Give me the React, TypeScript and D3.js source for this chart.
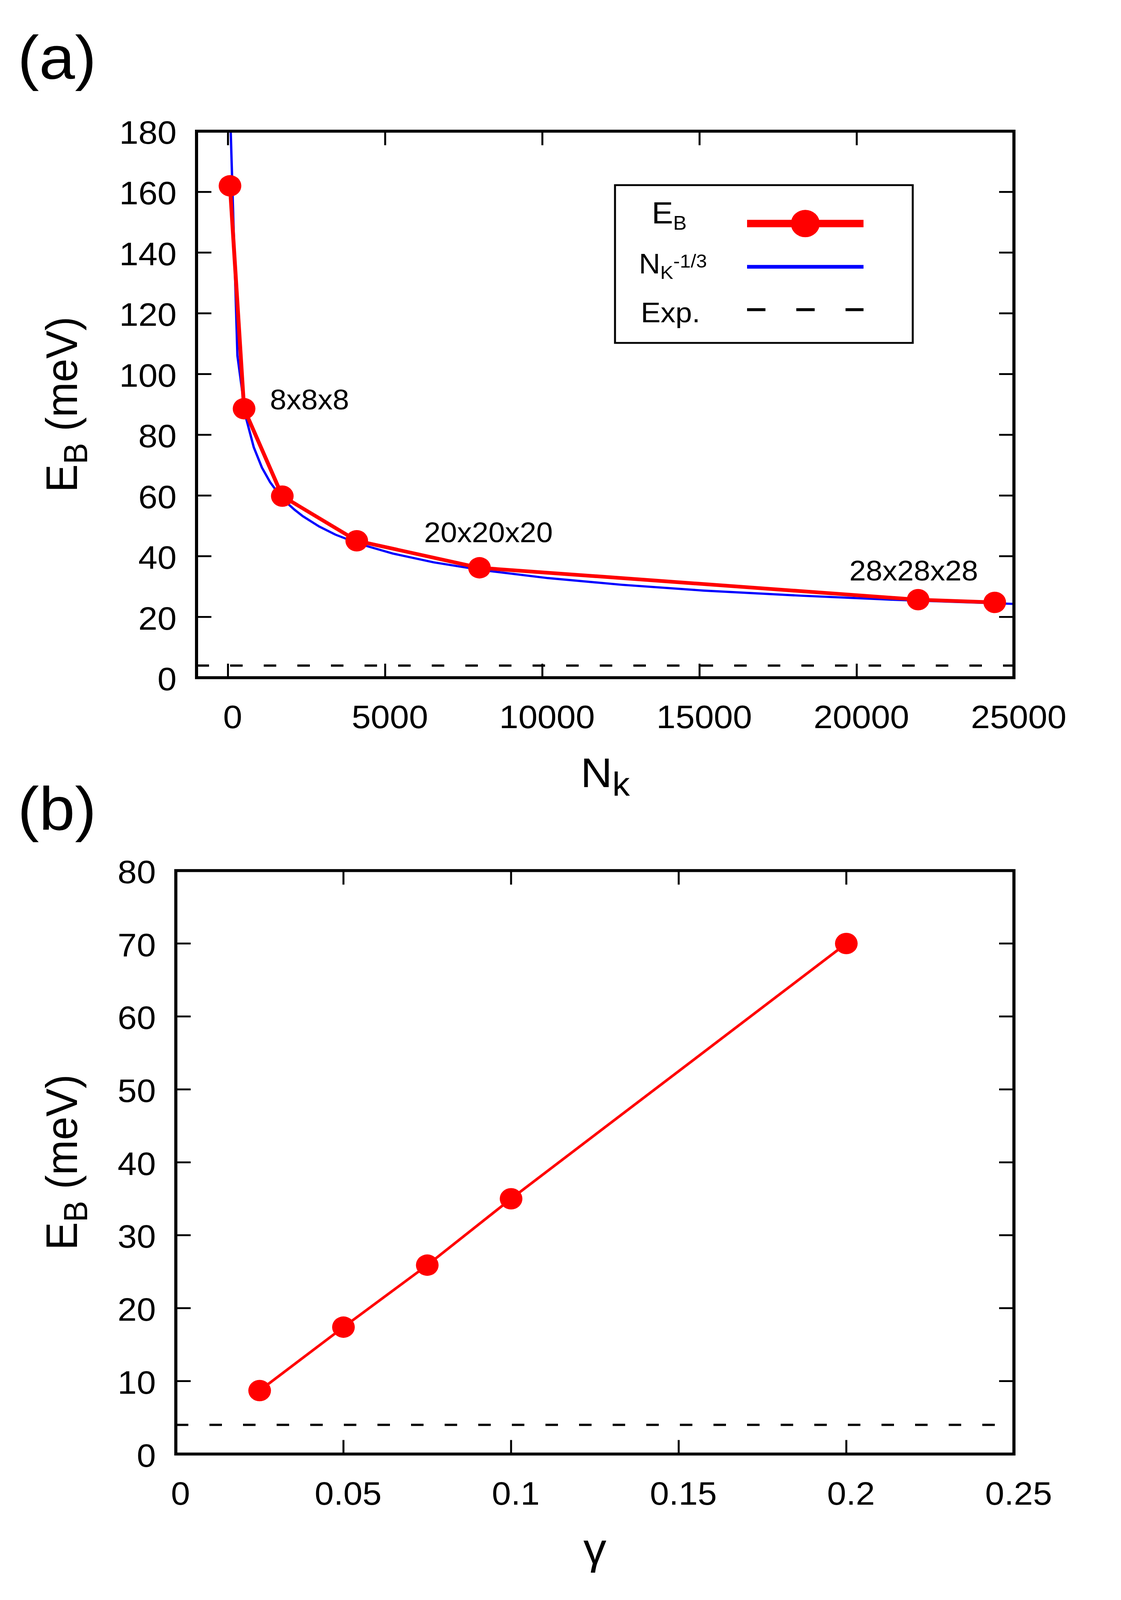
import React, { useLayoutEffect } from 'react'
import * as d3 from 'd3'

// panel (a): binding energy vs number of k-points
const NK = [64, 512, 1728, 4096, 8000, 21952, 24389]
const EB_NK = [162, 88.6, 59.8, 45.1, 36.2, 25.7, 24.8]
// N_k^-1/3 fit curve
const FIT_NK = [87, 300, 560, 820, 1080, 1340, 1600, 1860, 2120, 2380, 2900, 3420, 4200, 5240, 6540, 8100, 10180, 12520, 15120, 18240, 21100, 25000]
const FIT_EB = [180, 106.1, 86.1, 75.9, 69.2, 64.4, 60.7, 57.7, 55.3, 53.2, 49.8, 47.1, 44.0, 40.9, 38.0, 35.4, 32.8, 30.6, 28.7, 27.0, 25.7, 24.3]
const GRID_LABELS = ['8x8x8', '20x20x20', '28x28x28']
const GRID_AT = [512, 8000, 21952]
const EXP_EB = 4

// panel (b): binding energy vs gamma
const GAMMA = [0.025, 0.05, 0.075, 0.1, 0.2]
const EB_GAMMA = [8.7, 17.4, 25.9, 35, 70]

const NK_TICKS = [0, 5000, 10000, 15000, 20000, 25000]
const EB_TICKS_A = [0, 20, 40, 60, 80, 100, 120, 140, 160, 180]
const GAMMA_TICKS = [0, 0.05, 0.1, 0.15, 0.2, 0.25]
const EB_TICKS_B = [0, 10, 20, 30, 40, 50, 60, 70, 80]

const FONT = '"Liberation Sans", Arial, Helvetica, sans-serif'
const RED = '#ff0000'
const BLUE = '#0000ff'
const W = 2869
const H = 4330

type Scale = d3.ScaleLinear<number, number>

function Frame({ x, y, xTicks, yTicks }: { x: Scale; y: Scale; xTicks: number[]; yTicks: number[] }) {
  const [x0, x1] = x.range()
  const [y0, y1] = y.range()
  const tl = 38
  return (
    <g>
      {xTicks.map(t => (
        <g key={'x' + t}>
          <line x1={x(t)} x2={x(t)} y1={y0} y2={y0 - tl} stroke="#000" strokeWidth={5} />
          <line x1={x(t)} x2={x(t)} y1={y1} y2={y1 + tl} stroke="#000" strokeWidth={5} />
          <text x={x(t) + 12} y={y0 + 137} fontSize={88} textAnchor="middle">{String(t)}</text>
        </g>
      ))}
      {yTicks.map(t => (
        <g key={'y' + t}>
          <line x1={x0} x2={x0 + tl} y1={y(t)} y2={y(t)} stroke="#000" strokeWidth={5} />
          <line x1={x1} x2={x1 - tl} y1={y(t)} y2={y(t)} stroke="#000" strokeWidth={5} />
          <text x={x0 - 51} y={y(t) + 34} fontSize={88} textAnchor="end">{String(t)}</text>
        </g>
      ))}
      <rect x={x0} y={y1} width={x1 - x0} height={y0 - y1} fill="none" stroke="#000" strokeWidth={8} />
    </g>
  )
}

function YTitle({ cy }: { cy: number }) {
  return (
    <text transform={`translate(197,${cy}) rotate(-90)`} fontSize={114} textAnchor="middle">
      E<tspan dy={26} fontSize={86}>B</tspan><tspan dy={-26}> (meV)</tspan>
    </text>
  )
}

export default function App() {
  useLayoutEffect(() => {
    document.body.style.margin = '0'
  }, [])

  // the browser viewport may be shorter than the figure; fit the whole figure in it
  const viewH = Math.min(H, window.innerHeight || H)

  // panel (a)
  const xa = d3.scaleLinear().domain([-1000, 25000]).range([503, 2595])
  const ya = d3.scaleLinear().domain([0, 180]).range([1834, 355])
  // panel (b)
  const xb = d3.scaleLinear().domain([0, 0.25]).range([450, 2595])
  const yb = d3.scaleLinear().domain([0, 80]).range([3935, 2356])

  const lineA = d3.line<number>().x((_, i) => xa(NK[i])).y(d => ya(d))
  const fitA = d3.line<number>().x((_, i) => xa(FIT_NK[i])).y(d => ya(d))
  const lineB = d3.line<number>().x((_, i) => xb(GAMMA[i])).y(d => yb(d))

  const labelOffsets = [
    { dx: 66, dy: 2 },
    { dx: -142, dy: -69 },
    { dx: -176, dy: -52 },
  ]

  // legend geometry
  const lg = { x: 1574, y: 501, w: 762, h: 427, s0: 1912, s1: 2210 }

  return (
    <svg width={W} height={viewH} viewBox={`0 0 ${W} ${H}`} preserveAspectRatio="none"
      style={{ display: 'block', background: '#fff' }}
      fontFamily={FONT}>
      <rect x={0} y={0} width={W} height={H} fill="#fff" />

      {/* ---------- (a) ---------- */}
      <text x={45} y={212} fontSize={165}>(a)</text>

      <line x1={xa.range()[0]} x2={xa.range()[1]} y1={ya(EXP_EB)} y2={ya(EXP_EB)}
        stroke="#000" strokeWidth={6} strokeDasharray="32,54" />
      <path d={fitA(FIT_EB) || ''} fill="none" stroke={BLUE} strokeWidth={6} />
      <path d={lineA(EB_NK) || ''} fill="none" stroke={RED} strokeWidth={10} strokeLinejoin="round" />
      {EB_NK.map((v, i) => (
        <circle key={i} cx={xa(NK[i])} cy={ya(v)} r={29} fill={RED} />
      ))}
      {GRID_LABELS.map((t, i) => {
        const k = NK.indexOf(GRID_AT[i])
        return (
          <text key={t} x={xa(NK[k]) + labelOffsets[i].dx} y={ya(EB_NK[k]) + labelOffsets[i].dy} fontSize={76}>{t}</text>
        )
      })}

      <Frame x={xa} y={ya} xTicks={NK_TICKS} yTicks={EB_TICKS_A} />

      {/* legend */}
      <rect x={lg.x} y={lg.y} width={lg.w} height={lg.h} fill="#fff" stroke="#000" strokeWidth={5} />
      <text x={1668} y={605} fontSize={82}>E<tspan dy={17} fontSize={52}>B</tspan></text>
      <line x1={lg.s0} x2={lg.s1} y1={605} y2={605} stroke={RED} strokeWidth={20} />
      <circle cx={(lg.s0 + lg.s1) / 2} cy={605} r={37} fill={RED} />

      <text x={1635} y={740} fontSize={76}>N<tspan dy={15} fontSize={50}>K</tspan><tspan dy={-31} fontSize={50}>-1/3</tspan></text>
      <line x1={lg.s0} x2={lg.s1} y1={722} y2={722} stroke={BLUE} strokeWidth={10} />

      <text x={1640} y={872} fontSize={76}>Exp.</text>
      <line x1={lg.s0} x2={lg.s1} y1={838} y2={838} stroke="#000" strokeWidth={8} strokeDasharray="47,79" />

      <YTitle cy={(ya.range()[0] + ya.range()[1]) / 2} />
      <text x={(xa.range()[0] + xa.range()[1]) / 2} y={2130} fontSize={112} textAnchor="middle">
        N<tspan dy={23} fontSize={90}>k</tspan>
      </text>

      {/* ---------- (b) ---------- */}
      <text x={45} y={2245} fontSize={165}>(b)</text>

      <line x1={xb.range()[0]} x2={xb.range()[1]} y1={yb(EXP_EB)} y2={yb(EXP_EB)}
        stroke="#000" strokeWidth={6} strokeDasharray="32,54" />
      <path d={lineB(EB_GAMMA) || ''} fill="none" stroke={RED} strokeWidth={7} />
      {EB_GAMMA.map((v, i) => (
        <circle key={i} cx={xb(GAMMA[i])} cy={yb(v)} r={29} fill={RED} />
      ))}

      <Frame x={xb} y={yb} xTicks={GAMMA_TICKS} yTicks={EB_TICKS_B} />

      <YTitle cy={(yb.range()[0] + yb.range()[1]) / 2} />
      <text x={(xb.range()[0] + xb.range()[1]) / 2} y={4232} fontSize={118} textAnchor="middle">γ</text>
    </svg>
  )
}
